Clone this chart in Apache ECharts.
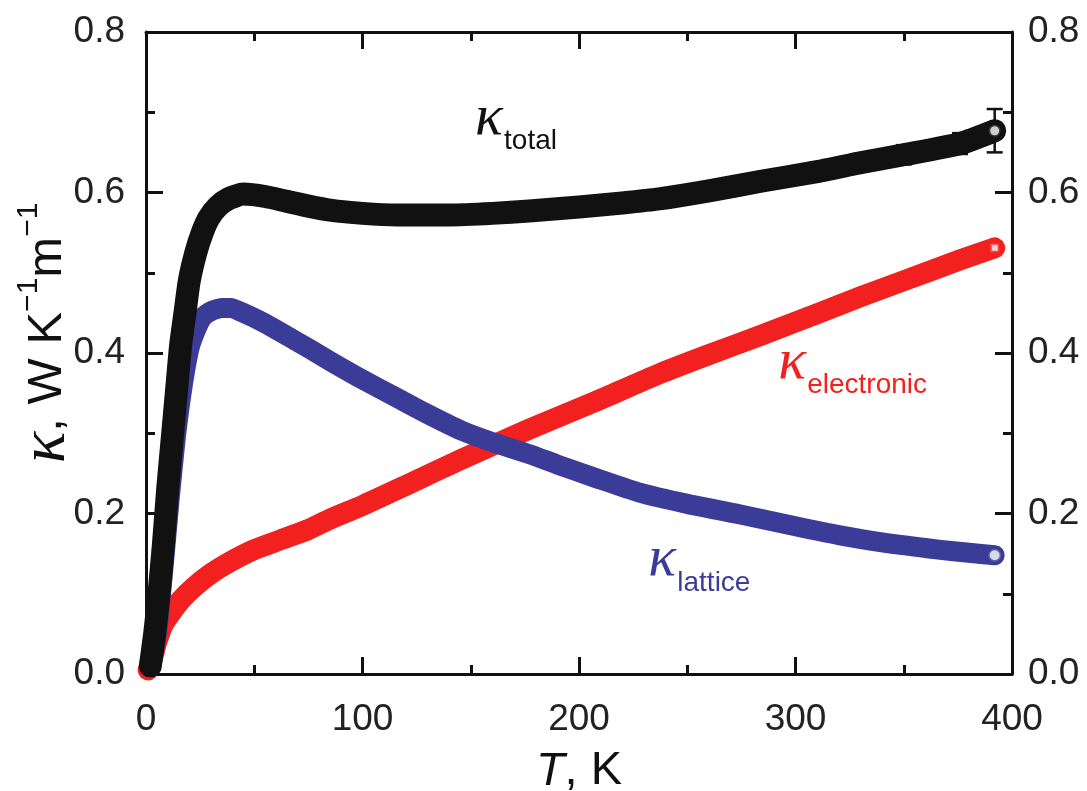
<!DOCTYPE html>
<html>
<head>
<meta charset="utf-8">
<script src="https://cdn.jsdelivr.net/npm/echarts@6/dist/echarts.min.js"></script>
<style>
  html, body { margin: 0; padding: 0; background: #ffffff; }
  #chart { width: 1087px; height: 791px; }
</style>
</head>
<body>
<div id="chart"></div>
<script>
// Thermal conductivity vs temperature: total, electronic and lattice parts.
// Temperatures in K, conductivities in W K^-1 m^-1.
const totalT = [2, 4, 6, 8, 10, 12, 14, 16, 18, 20, 23, 26, 29, 33, 38, 45, 55, 65, 75, 85, 100, 116, 140, 160, 177, 200, 220, 237, 260, 284, 310, 330, 350, 376, 392];
const totalK = [0.01, 0.05, 0.10, 0.16, 0.23, 0.29, 0.35, 0.41, 0.45, 0.49, 0.525, 0.55, 0.568, 0.582, 0.592, 0.598, 0.595, 0.589, 0.583, 0.578, 0.574, 0.572, 0.572, 0.574, 0.577, 0.582, 0.587, 0.592, 0.602, 0.614, 0.626, 0.637, 0.647, 0.661, 0.677];
const totalErr = [0.004, 0.004, 0.005, 0.005, 0.005, 0.005, 0.005, 0.005, 0.005, 0.005, 0.005, 0.005, 0.005, 0.005, 0.005, 0.005, 0.005, 0.005, 0.005, 0.005, 0.006, 0.006, 0.007, 0.007, 0.008, 0.008, 0.009, 0.009, 0.010, 0.010, 0.011, 0.011, 0.012, 0.013, 0.027];

const elecT = [1, 3, 5, 8, 12, 16, 22, 30, 39, 50, 62, 75, 85, 100, 120, 146, 177, 208, 237, 260, 284, 310, 330, 350, 376, 392];
const elecK = [0.005, 0.02, 0.04, 0.062, 0.078, 0.092, 0.108, 0.125, 0.14, 0.155, 0.167, 0.18, 0.193, 0.21, 0.235, 0.268, 0.305, 0.34, 0.374, 0.398, 0.422, 0.449, 0.47, 0.49, 0.516, 0.531];

const latT = [2, 5, 8, 11, 14, 17, 20, 23, 26, 30, 35, 39, 45, 55, 66, 75, 85, 100, 116, 130, 146, 160, 177, 190, 208, 228, 250, 274, 300, 320, 340, 366, 380, 392];
const latK = [0.01, 0.05, 0.13, 0.22, 0.30, 0.36, 0.405, 0.428, 0.444, 0.452, 0.456, 0.456, 0.45, 0.437, 0.42, 0.406, 0.39, 0.367, 0.344, 0.324, 0.303, 0.289, 0.274, 0.261, 0.244, 0.226, 0.212, 0.199, 0.184, 0.173, 0.164, 0.155, 0.151, 0.148];

// Axis ranges, tick steps and tick-label text
const xRange = [0, 400];
const xStep = 100;
const yRange = [0, 0.8];
const yStep = 0.2;
const yLabelDigits = 1;

const INK = '#111111';
const RED = '#f2211f';
const BLUE = '#3b3c97';
const SANS = '"Liberation Sans", Arial, sans-serif';
const SERIF = '"Liberation Serif", "Times New Roman", serif';

const zip = (xs, ys) => xs.map((x, i) => [x, ys[i]]);
const last = (xs, ys) => [[xs[xs.length - 1], ys[ys.length - 1]]];

const chart = echarts.init(document.getElementById('chart'), null, { renderer: 'canvas' });

const tickCommon = {
  axisLine: { show: true, onZero: false, lineStyle: { color: INK, width: 3 } },
  axisTick: { show: true, inside: true, length: 17, lineStyle: { color: INK, width: 3 } },
  minorTick: { show: true, splitNumber: 2, length: 9, lineStyle: { color: INK, width: 3 } },
  splitLine: { show: false },
  minorSplitLine: { show: false }
};

const xBase = { type: 'value', min: xRange[0], max: xRange[1], interval: xStep, ...tickCommon };
const yBase = { type: 'value', min: yRange[0], max: yRange[1], interval: yStep, ...tickCommon };
const tickLabel = { fontSize: 37, color: '#222', fontFamily: SANS };

// vertical error bar with caps for the total conductivity
function errorBars(params, api) {
  const x = api.value(0), y = api.value(1), e = api.value(2);
  const top = api.coord([x, y + e]);
  const bot = api.coord([x, y - e]);
  const half = 8;
  const style = { stroke: INK, lineWidth: 2.5 };
  return {
    type: 'group',
    children: [
      { type: 'line', shape: { x1: top[0], y1: top[1], x2: bot[0], y2: bot[1] }, style },
      { type: 'line', shape: { x1: top[0] - half, y1: top[1], x2: top[0] + half, y2: top[1] }, style },
      { type: 'line', shape: { x1: bot[0] - half, y1: bot[1], x2: bot[0] + half, y2: bot[1] }, style }
    ]
  };
}

const lineCurve = { smooth: 0.2, showSymbol: false };

const option = {
  backgroundColor: '#ffffff',
  animation: false,
  grid: { left: 146, right: 75, top: 32, bottom: 117, containLabel: false, outerBoundsMode: 'none' },
  xAxis: [
    {
      ...xBase, position: 'bottom',
      axisLabel: { ...tickLabel, margin: 27 },
      name: '{i|T}{n|, K}',
      nameLocation: 'middle',
      nameGap: 74,
      nameMoveOverlap: false,
      nameTextStyle: {
        rich: {
          i: { fontSize: 47, fontStyle: 'italic', fontFamily: SANS, color: INK },
          n: { fontSize: 47, fontFamily: SANS, color: INK }
        }
      }
    },
    { ...xBase, position: 'top', axisLabel: { show: false } }
  ],
  yAxis: [
    {
      ...yBase, position: 'left',
      axisLabel: { ...tickLabel, margin: 21, formatter: v => v.toFixed(yLabelDigits) },
      name: '{k|κ}{n|, W K}{s|−1}{n|m}{s|−1}',
      nameLocation: 'middle',
      nameRotate: 90,
      nameGap: 66,
      nameMoveOverlap: false,
      nameTextStyle: {
        padding: [0, 0, 0, 40],
        rich: {
          k: { fontSize: 66, fontStyle: 'italic', fontFamily: SERIF, color: INK },
          n: { fontSize: 49, fontFamily: SANS, color: INK },
          s: { fontSize: 30, fontFamily: SANS, color: INK, verticalAlign: 'top' }
        }
      }
    },
    {
      ...yBase, position: 'right',
      axisLabel: { ...tickLabel, margin: 16, formatter: v => v.toFixed(yLabelDigits) }
    }
  ],
  series: [
    {
      name: 'electronic', type: 'line', data: zip(elecT, elecK), ...lineCurve,
      lineStyle: { color: RED, width: 21, cap: 'round', join: 'round' }, z: 2
    },
    {
      name: 'electronic end', type: 'scatter', data: last(elecT, elecK),
      symbol: 'rect', symbolSize: 9,
      itemStyle: { color: '#ffffff', borderColor: RED, borderWidth: 3 }, z: 3
    },
    {
      name: 'lattice', type: 'line', data: zip(latT, latK), ...lineCurve,
      lineStyle: { color: BLUE, width: 20, cap: 'round', join: 'round' }, z: 4
    },
    {
      name: 'lattice end', type: 'scatter', data: last(latT, latK),
      symbol: 'circle', symbolSize: 13,
      itemStyle: { color: '#ffffff', borderColor: BLUE, borderWidth: 3 }, z: 5
    },
    {
      name: 'total', type: 'line', data: zip(totalT, totalK), ...lineCurve,
      lineStyle: { color: INK, width: 23, cap: 'round', join: 'round' }, z: 6
    },
    {
      name: 'total error', type: 'custom',
      data: totalT.map((t, i) => [t, totalK[i], totalErr[i]]),
      renderItem: errorBars, z: 7
    },
    {
      name: 'total end', type: 'scatter', data: last(totalT, totalK),
      symbol: 'circle', symbolSize: 12,
      itemStyle: { color: '#ffffff', borderColor: INK, borderWidth: 3 }, z: 8
    }
  ]
};

chart.setOption(option);

// Curve labels, anchored in data coordinates (bottom-left of the kappa glyph)
const curveLabels = [
  { sub: 'total', T: 152, k: 0.672, color: INK },
  { sub: 'electronic', T: 292, k: 0.368, color: RED },
  { sub: 'lattice', T: 232, k: 0.122, color: BLUE }
];

const graphics = [];
curveLabels.forEach(lab => {
  const p = chart.convertToPixel({ xAxisIndex: 0, yAxisIndex: 0 }, [lab.T, lab.k]);
  graphics.push({
    type: 'text', x: p[0], y: p[1] + 13, z: 20,
    style: { text: 'κ', fill: lab.color, fontSize: 58, fontStyle: 'italic', fontFamily: SERIF, align: 'left', verticalAlign: 'bottom' }
  });
  graphics.push({
    type: 'text', x: p[0] + 29, y: p[1] + 21, z: 20,
    style: { text: lab.sub, fill: lab.color, fontSize: 28, fontFamily: SANS, align: 'left', verticalAlign: 'bottom' }
  });
});
chart.setOption({ graphic: graphics });
</script>
</body>
</html>
